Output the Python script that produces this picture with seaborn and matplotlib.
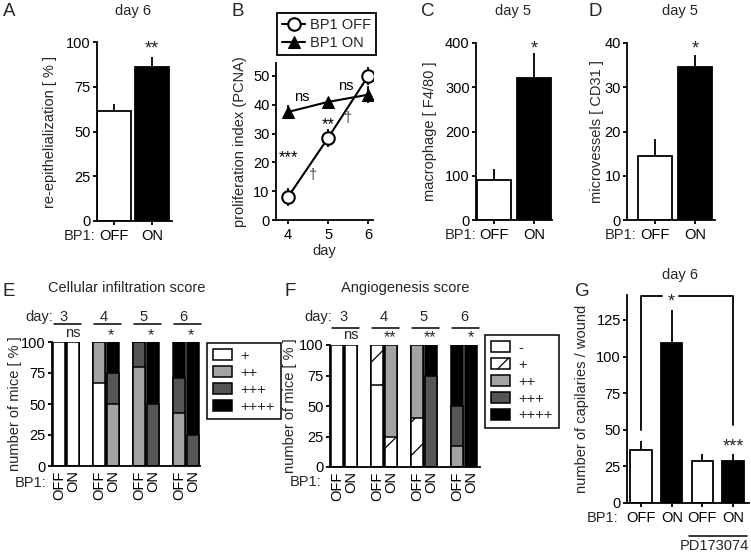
import numpy as np
import seaborn as sns
from matplotlib import pyplot as plt
from matplotlib.patches import Patch
from matplotlib.transforms import blended_transform_factory

W, H = 751, 553

BP1 = ['OFF', 'ON']

# A: re-epithelialization, day 6
reepi_mean = [61.5, 86]
reepi_err = [4, 5.5]

# B: proliferation index (PCNA)
prolif_days = [4, 5, 6]
prolif_off = [8, 28.5, 50]
prolif_off_err = [3, 3, 3]
prolif_on = [37.5, 41, 43.5]
prolif_on_err = [2.5, 1.5, 3]

# C / D: day 5
macro_mean = [90, 322]
macro_err = [26, 56]
micro_mean = [14.5, 34.5]
micro_err = [3.7, 2.7]

# E / F: % of mice per score, bars ordered 3 OFF, 3 ON, 4 OFF, ..., 6 ON
score_days = ['3', '4', '5', '6']
infil_levels = ['+', '++', '+++', '++++']
infil_1 = [100, 100, 67, 0, 0, 0, 0, 0]
infil_2 = [0, 0, 33, 50, 80, 0, 43, 0]
infil_3 = [0, 0, 0, 25, 20, 50, 28, 25]
infil_4 = [0, 0, 0, 25, 0, 50, 29, 75]
infil_sig = ['ns', '*', '*', '*']

angio_levels = ['-', '+', '++', '+++', '++++']
angio_0 = [100, 100, 67, 0, 0, 0, 0, 0]
angio_1 = [0, 0, 33, 25, 40, 0, 0, 0]
angio_2 = [0, 0, 0, 75, 60, 0, 17, 0]
angio_3 = [0, 0, 0, 0, 0, 75, 33, 0]
angio_4 = [0, 0, 0, 0, 0, 25, 50, 100]
angio_sig = ['ns', '**', '**', '*']

# G: capillaries, day 6
capil_labels = ['OFF', 'ON', 'OFF', 'ON']
capil_mean = [36, 109, 28.5, 29]
capil_err = [6.5, 22.5, 5, 4.5]

LW = 1.3
FS = 10.5
STAR = 13
GREYS = ['white', '#a3a3a3', '#555555', 'black']

sns.set_theme(style='ticks')
plt.rcParams['font.family'] = ['Liberation Sans', 'DejaVu Sans']
plt.rcParams['font.size'] = FS
plt.rcParams['hatch.linewidth'] = 0.9

fig = plt.figure(figsize=(W / 100, H / 100), dpi=100)


def px_axes(l, t, r, b):
    return fig.add_axes([l / W, 1 - b / H, (r - l) / W, (b - t) / H])


def ftext(x, y, s, **kw):
    kw.setdefault('ha', 'center')
    kw.setdefault('va', 'center')
    fig.text(x / W, 1 - y / H, s, **kw)


def style(ax, ylabel, label_x):
    sns.despine(ax=ax)
    for s in ('left', 'bottom'):
        ax.spines[s].set_linewidth(LW)
        ax.spines[s].set_color('black')
    ax.tick_params(width=LW, length=3, labelsize=FS, pad=1.5, colors='black')
    ax.tick_params(axis='x', pad=3)
    ax.set_ylabel(ylabel, fontsize=FS)
    ax.yaxis.set_label_coords(label_x, 0.5)
    ax.yaxis.label.set_verticalalignment('center')


def bar_panel(ax, labels, means, errs, colors, width):
    keys = [f'{i}{l}' for i, l in enumerate(labels)]
    sns.barplot(x=keys, y=means, hue=keys, palette=colors, legend=False,
                width=width, edgecolor='black', linewidth=LW, ax=ax)
    ax.errorbar(range(len(means)), means, yerr=[np.zeros(len(errs)), errs],
                fmt='none', ecolor='black', elinewidth=LW, capsize=0, zorder=3)
    ax.set_xticks(range(len(labels)), labels)
    ax.set_xlabel('')


def bp1_label(ax, xfrac):
    ax.annotate('BP1:', xy=(xfrac, 0), xycoords='axes fraction', xytext=(0, -6),
                textcoords='offset points', ha='right', va='top', fontsize=FS)


def stacked_panel(ax, layers, colors, hatches):
    cum = np.cumsum(np.array(layers), axis=0)
    day_col = np.repeat(score_days, 2)
    bp_col = BP1 * len(score_days)
    for k in reversed(range(len(layers))):
        sns.barplot(x=day_col, y=cum[k], hue=bp_col, hue_order=BP1,
                    palette={'OFF': colors[k], 'ON': colors[k]},
                    width=0.68, gap=0.1, edgecolor='black', linewidth=1.1,
                    hatch=hatches[k], legend=False, ax=ax)
    pos = [i + d for i in range(len(score_days)) for d in (-0.17, 0.17)]
    ax.set_xticks(pos, BP1 * len(score_days), rotation=90)
    ax.set_xlabel('')
    ax.set_ylim(0, 100)
    ax.set_yticks([0, 25, 50, 75, 100])


# ---------------- A ----------------
ax = px_axes(97, 42, 172, 221)
bar_panel(ax, BP1, reepi_mean, reepi_err, ['white', 'black'], 0.88)
ax.set_xlim(-0.45, 1.53)
ax.set_ylim(0, 100)
ax.set_yticks([0, 25, 50, 75, 100])
style(ax, 're-epithelialization [ % ]', -0.63)
bp1_label(ax, -0.02)
ax.text(1, 96, '**', ha='center', va='center', fontsize=STAR)
ftext(9, 12, 'A', fontsize=13.5)
ftext(133, 11, 'day 6', fontsize=FS)

# ---------------- B ----------------
ax = px_axes(276, 63, 373, 220)
sns.lineplot(x=prolif_days, y=prolif_off, color='black', marker='o', markersize=9,
             markerfacecolor='white', markeredgecolor='black', markeredgewidth=1.5,
             linewidth=1.5, label='BP1 OFF', ax=ax, zorder=4)
sns.lineplot(x=prolif_days, y=prolif_on, color='black', marker='^', markersize=8,
             markeredgecolor='black', linewidth=1.5, label='BP1 ON', ax=ax, zorder=4)
ax.errorbar(prolif_days, prolif_off, yerr=prolif_off_err, fmt='none', ecolor='black',
            elinewidth=1.3, capsize=0, zorder=3)
ax.errorbar(prolif_days, prolif_on, yerr=prolif_on_err, fmt='none', ecolor='black',
            elinewidth=1.3, capsize=0, zorder=3)
ax.set_xlim(3.7, 6.12)
ax.set_ylim(0, 54.5)
ax.set_xticks(prolif_days)
ax.set_yticks([0, 10, 20, 30, 40, 50])
style(ax, 'proliferation index (PCNA)', -0.37)
ax.set_xlabel('day', fontsize=FS, labelpad=1)
leg = ax.legend(loc='upper left', bbox_to_anchor=(0.01, 1.318), borderaxespad=0,
                frameon=True, fancybox=False, edgecolor='black', framealpha=1,
                handlelength=1.6, handletextpad=0.3, borderpad=0.35,
                labelspacing=0.25, fontsize=FS)
leg.get_frame().set_linewidth(LW)
for s, x, y, c, fs in [('ns', 4.35, 42.7, 'black', FS), ('ns', 5.43, 46.5, 'black', FS),
                       ('**', 5.0, 33.0, 'black', STAR - 1), ('***', 4.0, 21.5, 'black', STAR - 1),
                       ('†', 4.62, 15.6, '#444444', FS), ('†', 5.5, 35.4, '#444444', FS)]:
    ax.text(x, y, s, ha='center', va='center', fontsize=fs, color=c)
ftext(238, 12, 'B', fontsize=13.5)

# ---------------- C ----------------
ax = px_axes(476, 43, 552, 220)
bar_panel(ax, BP1, macro_mean, macro_err, ['white', 'black'], 0.85)
ax.set_xlim(-0.45, 1.45)
ax.set_ylim(0, 400)
ax.set_yticks([0, 100, 200, 300, 400])
style(ax, 'macrophage [ F4/80 ]', -0.6)
bp1_label(ax, 0.0)
ax.text(1, 386, '*', ha='center', va='center', fontsize=STAR)
ftext(428, 12, 'C', fontsize=13.5)
ftext(513, 11, 'day 5', fontsize=FS)

# ---------------- D ----------------
ax = px_axes(627, 43, 715, 220)
bar_panel(ax, BP1, micro_mean, micro_err, ['white', 'black'], 0.85)
ax.set_xlim(-0.7, 1.5)
ax.set_ylim(0, 40)
ax.set_yticks([0, 10, 20, 30, 40])
style(ax, 'microvessels [ CD31 ]', -0.345)
bp1_label(ax, 0.11)
ax.text(1, 38.6, '*', ha='center', va='center', fontsize=STAR)
ftext(595, 12, 'D', fontsize=13.5)
ftext(680, 11, 'day 5', fontsize=FS)


def score_header(ax, sigs, num_dx, sig_dx, y_num, y_line, y_sig, day_x):
    for i, (d, s) in enumerate(zip(score_days, sigs)):
        ax.text(i + num_dx, y_num, d, ha='center', va='center', fontsize=FS, clip_on=False)
        ax.plot([i - 0.29, i + 0.37], [y_line, y_line], color='black', lw=1.1, clip_on=False)
        if s == 'ns':
            ax.text(i + 0.17, y_sig + 2, s, ha='center', va='center', fontsize=FS,
                    clip_on=False)
        else:
            ax.text(i + sig_dx, y_sig, s, ha='center', va='center', fontsize=STAR - 1.5,
                    clip_on=False)
    ax.text(day_x, y_num, 'day:', ha='right', va='center', fontsize=FS, clip_on=False)


def score_legend(levels, colors, hatches, x, y):
    handles = [Patch(facecolor=c, edgecolor='black', hatch=h, linewidth=1.1)
               for c, h in zip(colors, hatches)]
    lg = fig.legend(handles, levels, loc='upper left', bbox_to_anchor=(x / W, 1 - y / H),
                    frameon=True, fancybox=False, edgecolor='black', framealpha=1,
                    borderaxespad=0, handlelength=1.3, handleheight=0.75,
                    labelspacing=0.2, borderpad=0.4, handletextpad=0.6, fontsize=FS)
    lg.get_frame().set_linewidth(1.1)


# ---------------- E ----------------
ax = px_axes(52, 342, 200, 466)
stacked_panel(ax, [infil_1, infil_2, infil_3, infil_4], GREYS, [None] * 4)
ax.set_xlim(-0.35, 3.35)
style(ax, 'number of mice [ % ]', -0.25)
ax.tick_params(axis='x', length=0, pad=3)
score_header(ax, infil_sig, -0.06, 0.12, 120, 114.5, 105.5, -0.33)
score_legend(infil_levels, GREYS, [None] * 4, 207, 343)
ftext(31, 483, 'BP1:', fontsize=FS)
ftext(9, 291, 'E', fontsize=13.5)
ftext(127, 288, 'Cellular infiltration score', fontsize=FS)

# ---------------- F ----------------
angio_cols = ['white', 'white', '#a3a3a3', '#555555', 'black']
angio_hatch = [None, '/', None, None, None]
ax = px_axes(330, 345, 480, 467)
stacked_panel(ax, [angio_0, angio_1, angio_2, angio_3, angio_4], angio_cols, angio_hatch)
ax.set_xlim(-0.35, 3.4)
style(ax, 'number of mice [ % ]', -0.267)
ax.tick_params(axis='x', length=0, pad=3)
score_header(ax, angio_sig, 0.0, 0.16, 123, 114, 106, -0.3)
score_legend(angio_levels, angio_cols, angio_hatch, 485, 335)
ftext(306, 482, 'BP1:', fontsize=FS)
ftext(290, 291, 'F', fontsize=13.5)
ftext(405, 288, 'Angiogenesis score', fontsize=FS)

# ---------------- G ----------------
ax = px_axes(627, 295, 749, 503)
bar_panel(ax, capil_labels, capil_mean, capil_err, ['white', 'black', 'white', 'black'], 0.7)
ax.set_xlim(-0.46, 3.52)
ax.set_ylim(0, 142)
ax.set_yticks([0, 25, 50, 75, 100, 125])
style(ax, 'number of capilaries / wound', -0.37)
bp1_label(ax, -0.07)
ax.plot([0, 0, 0.68], [50, 141.5, 141.5], color='black', lw=LW, clip_on=False)
ax.plot([1.25, 3, 3], [141.5, 141.5, 53], color='black', lw=LW, clip_on=False)
ax.text(0.97, 137.5, '*', ha='center', va='center', fontsize=STAR, clip_on=False)
ax.text(3, 38.5, '***', ha='center', va='center', fontsize=STAR)
trans = blended_transform_factory(ax.transData, ax.transAxes)
ax.plot([1.55, 3.45], [-0.16, -0.16], color='black', lw=1.1, transform=trans, clip_on=False)
ax.text(2.4, -0.205, 'PD173074', ha='center', va='center', fontsize=FS, transform=trans)
ftext(582, 291, 'G', fontsize=13.5)
ftext(680, 275, 'day 6', fontsize=FS)

fig.savefig('out.png', dpi=100)
